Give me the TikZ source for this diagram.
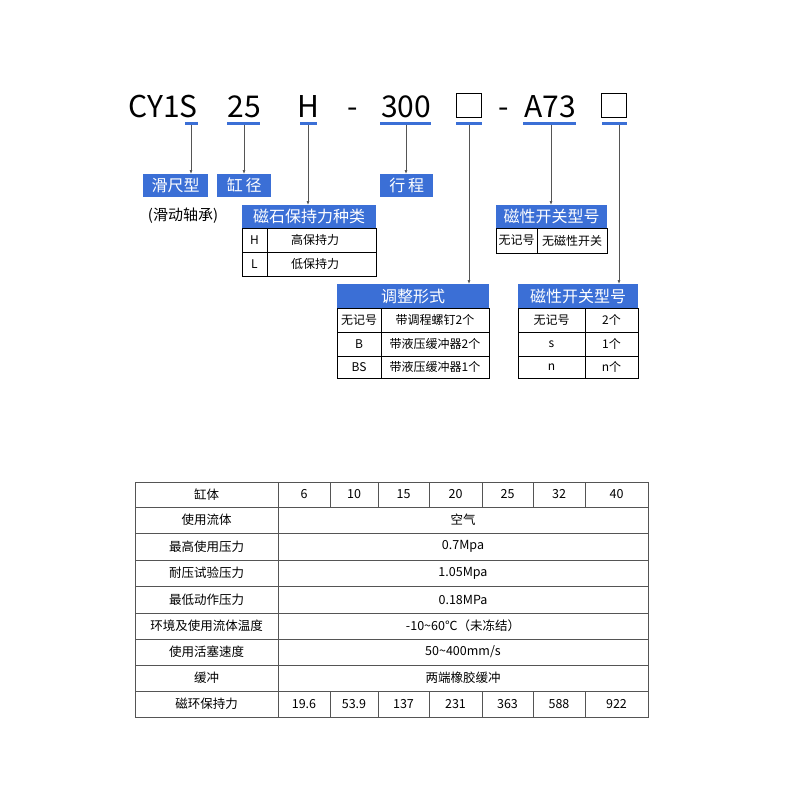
\documentclass[tikz,border=0pt]{standalone}
\usepackage{fontspec}
\usetikzlibrary{arrows.meta}
\setmainfont{Noto Sans CJK SC}
\definecolor{bl}{HTML}{3B6FD6}
\definecolor{gl}{HTML}{555555}
\begin{document}
\begin{tikzpicture}[x=1pt,y=-1pt,
  big/.style={font=\fontsize{30}{30}\selectfont,inner sep=0,anchor=base},
  bar/.style={fill=bl,draw=none},
  lab/.style={fill=bl,text=white,font=\fontsize{16}{16}\selectfont,inner sep=0,anchor=north west},
  cell/.style={font=\fontsize{12}{12}\selectfont,inner sep=0},
  arr/.style={-{Latex[length=4pt,width=3pt]},gl,line width=0.6pt},
  tb/.style={font=\fontsize{12.5}{12.5}\selectfont,inner sep=0}]
\useasboundingbox (0,0) rectangle (800,800);
% code row
\node[big] (c1) at (163,117) {CY1S};
\node[big] (c2) at (244,117) {25};
\node[big] (c3) at (308,117) {H};
\node[big] (c4) at (353,117) {-};
\node[big] (c5) at (406,117) {300};
\node[draw,line width=1pt,minimum width=25pt,minimum height=24pt,inner sep=0] (c6) at (469,105) {};
\node[big] (c7) at (504,117) {-};
\node[big] (c8) at (550,117) {A73};
\node[draw,line width=1pt,minimum width=25pt,minimum height=24pt,inner sep=0] (c9) at (614,105) {};
\foreach \a/\b/\n in {185/198/u1,227/260/u2,300/317/u3,380/431/u4,456/482/u5,523/576/u6,602/627/u7}
  \fill[bl] (\a,121.5) rectangle (\b,124.5) coordinate (\n);
\coordinate (t1) at (191,124.5); \coordinate (t2) at (244,124.5); \coordinate (t3) at (308,124.5);
\coordinate (t4) at (406,124.5); \coordinate (t5) at (469,124.5); \coordinate (t6) at (551,124.5); \coordinate (t7) at (619,124.5);
% labels
\node[lab,minimum width=65pt,minimum height=23pt] (l1) at (143,174) {滑尺型};
\node[lab,minimum width=54pt,minimum height=23pt] (l2) at (217,174) {缸\,径};
\node[lab,minimum width=53pt,minimum height=23pt] (l3) at (380,174) {行\,程};
\node[font=\fontsize{15}{15}\selectfont,inner sep=0] (l1b) at (183,216) {(滑动轴承)};
\draw[arr] (t1) -- (l1.north -| t1);
\draw[arr] (t2) -- (l2.north -| t2);
\draw[arr] (t4) -- (l3.north -| t4);
% 磁石保持力种类
\node[lab,minimum width=134pt,minimum height=23pt] (h1) at (242,205) {磁石保持力种类};
\draw[arr] (t3) -- (h1.north -| t3);
\draw[line width=0.8pt] (242,228) rectangle (376,276) (242,252)--(376,252) (267,228)--(267,276);
\node[cell] (h1a) at (254.5,240) {H}; \node[cell] (h1b) at (315,240) {高保持力};
\node[cell] (h1c) at (254.5,264) {L}; \node[cell] (h1d) at (315,264) {低保持力};
% 调整形式
\node[lab,minimum width=152pt,minimum height=24pt] (h2) at (337,284) {调整形式};
\draw[arr] (t5) -- (h2.north -| t5);
\draw[line width=0.8pt] (337,308) rectangle (489,378) (337,332)--(489,332) (337,356)--(489,356) (381,308)--(381,378);
\node[cell] (h2a) at (359,320) {无记号}; \node[cell] (h2b) at (435,320) {带调程螺钉2个};
\node[cell] (h2c) at (359,344) {B}; \node[cell] (h2d) at (435,344) {带液压缓冲器2个};
\node[cell] (h2e) at (359,367) {BS}; \node[cell] (h2f) at (435,367) {带液压缓冲器1个};
% 磁性开关型号 1
\node[lab,minimum width=111pt,minimum height=23pt] (h3) at (496,205) {磁性开关型号};
\draw[arr] (t6) -- (h3.north -| t6);
\draw[line width=0.8pt] (496,228) rectangle (607,253) (537,228)--(537,253);
\node[cell] (h3a) at (516.5,240.5) {无记号}; \node[cell] (h3b) at (572,240.5) {无磁性开关};
% 磁性开关型号 2
\node[lab,minimum width=120pt,minimum height=24pt] (h4) at (518,284) {磁性开关型号};
\draw[arr] (t7) -- (h4.north -| t7);
\draw[line width=0.8pt] (518,308) rectangle (638,378) (518,332)--(638,332) (518,356)--(638,356) (585,308)--(585,378);
\node[cell] (h4a) at (551.5,320) {无记号}; \node[cell] (h4b) at (611.5,320) {2个};
\node[cell] (h4c) at (551.5,344) {s}; \node[cell] (h4d) at (611.5,344) {1个};
\node[cell] (h4e) at (551.5,367) {n}; \node[cell] (h4f) at (611.5,367) {n个};
% spec table
\draw[gl,line width=0.7pt] (135,482) rectangle (648,717);
\foreach \y in {507,533,560,586,613,639,665,691} \draw[gl,line width=0.7pt] (135,\y)--(648,\y);
\draw[gl,line width=0.7pt] (278,482)--(278,717);
\foreach \x in {330,378,429,482,533,585} {\draw[gl,line width=0.7pt] (\x,482)--(\x,507); \draw[gl,line width=0.7pt] (\x,691)--(\x,717);}
\node[tb] (r1) at (206.5,494.5) {缸体};
\node[tb] (r2) at (206.5,520) {使用流体};
\node[tb] (r3) at (206.5,546.5) {最高使用压力};
\node[tb] (r4) at (206.5,573) {耐压试验压力};
\node[tb] (r5) at (206.5,599.5) {最低动作压力};
\node[tb] (r6) at (206.5,626) {环境及使用流体温度};
\node[tb] (r7) at (206.5,652) {使用活塞速度};
\node[tb] (r8) at (206.5,678) {缓冲};
\node[tb] (r9) at (206.5,704) {磁环保持力};
\node[tb] (v2) at (463,520) {空气};
\node[tb] (v3) at (463,546.5) {0.7Mpa};
\node[tb] (v4) at (463,573) {1.05Mpa};
\node[tb] (v5) at (463,599.5) {0.18MPa};
\node[tb] (v6) at (463,626) {-10\textasciitilde60℃（未冻结）};
\node[tb] (v7) at (463,652) {50\textasciitilde400mm/s};
\node[tb] (v8) at (463,678) {两端橡胶缓冲};
\foreach \c/\a/\b [count=\i] in {304/6/19.6,354/10/53.9,403.5/15/137,455.5/20/231,507.5/25/363,559/32/588,616.5/40/922} {
  \node[tb] (n\i) at (\c,494.5) {\a};
  \node[tb] (m\i) at (\c,704) {\b};}
\end{tikzpicture}
\end{document}
